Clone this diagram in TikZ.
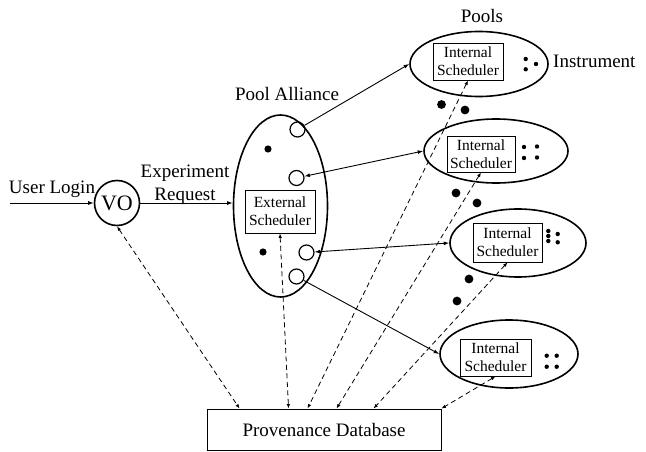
\documentclass[tikz,border=0pt]{standalone}
\usepackage{fontspec}
\setmainfont{Liberation Serif}
\usetikzlibrary{shapes.geometric,arrows.meta,calc}
\begin{document}
\begin{tikzpicture}[x=1pt,y=-1pt,
  lbl/.style={font=\fontsize{19}{23}\selectfont, inner sep=0pt},
  pool/.style={ellipse, draw, line width=1.6pt, inner sep=0pt},
  sched/.style={draw, line width=0.8pt, align=center, inner sep=0pt,
    font=\fontsize{15.5}{18}\selectfont},
  port/.style={circle, draw, line width=1.2pt, minimum size=15pt, inner sep=0pt},
  conn/.style={line width=0.9pt},
  tip/.style={-{Latex[length=5.5pt,width=4pt]}},
  tips/.style={{Latex[length=5.5pt,width=4pt]}-{Latex[length=5.5pt,width=4pt]}},
  dsh/.style={line width=0.8pt, dash pattern=on 5pt off 3.5pt,
    {Latex[length=4.5pt,width=3.5pt]}-{Latex[length=4.5pt,width=3.5pt]}},
  bigdot/.style={fill=black},
]
\useasboundingbox (0,0) rectangle (646,452);

% Pool alliance
\node[pool, minimum width=94pt, minimum height=182pt] (pa) at (280.5,206) {};
\node[lbl, anchor=base] (palbl) at (287,100) {Pool Alliance};
\node[sched, minimum width=70pt, minimum height=43pt] (ext) at (280,211.5) {External\\Scheduler};
\node[port] (c1) at (297.5,129.5) {};
\node[port] (c2) at (296.5,178) {};
\node[port] (c3) at (306.5,252.5) {};
\node[port] (c4) at (296.5,276.5) {};
\fill (268,149) circle (3.6);
\fill (263,252) circle (3.6);

% VO
\node[circle, draw, line width=1.6pt, minimum size=45pt, inner sep=0pt,
  font=\fontsize{22}{24}\selectfont] (vo) at (117,203) {VO};
\coordinate (ulstart) at (10,203);
\node[lbl, anchor=base] (ullbl) at (52,193) {User Login};
\node[lbl, anchor=base, align=center] (exlbl) at (185,200) {Experiment\\Request};

% Pools
\node[pool, minimum width=138pt, minimum height=65pt] (p1) at (479,64) {};
\node[pool, minimum width=144pt, minimum height=64pt] (p2) at (496,151) {};
\node[pool, minimum width=136pt, minimum height=68pt] (p3) at (518,243) {};
\node[pool, minimum width=138pt, minimum height=68pt] (p4) at (509,354) {};
\node[lbl, anchor=base] (poolslbl) at (482,23) {Pools};
\node[lbl, anchor=base west] (instlbl) at (553,68) {Instrument};

\node[sched, minimum width=70pt, minimum height=37pt] (is1) at (468,61.5) {Internal\\Scheduler};
\node[sched, minimum width=68pt, minimum height=36pt] (is2) at (481,154) {Internal\\Scheduler};
\node[sched, minimum width=69pt, minimum height=39pt] (is3) at (507.5,242.5) {Internal\\Scheduler};
\node[sched, minimum width=71pt, minimum height=37pt] (is4) at (495.5,357.5) {Internal\\Scheduler};

% instrument dots
\foreach \p in {(525.7,59),(536,64),(525.7,69.3),
  (524,147),(537,146.5),(524,158),(537,157.5),
  (548.3,231),(548.3,236),(548.3,241),(557.7,234),(557.7,242.3),
  (546.7,355.7),(556.7,355.7),(546.7,366.7),(556.7,366.7)}
  \fill \p circle (2.2);

% dots between pools
\foreach \p in {(441.5,104.5),(465,110),(456,193),(477,203),(469,279),(457,301)}
  \fill \p circle (4.4);

% Provenance database
\node[draw, line width=0.9pt, minimum width=234pt, minimum height=41pt, inner sep=0pt,
  font=\fontsize{19}{23}\selectfont] (db) at (324,429.5) {Provenance Database};

% solid connectors
\draw[conn, tip] (ulstart) -- (vo);
\draw[conn, tip] (vo.east) -- (vo.east -| pa.west);
\draw[conn, tip] (c1) -- (p1.west);
\draw[conn, tips] (c2) -- (p2.west);
\draw[conn, tips] (c3) -- (p3.west);
\draw[conn, tip] (c4) -- (p4.west);

% dashed connectors
\draw[dsh] (vo.south) -- ([xshift=33pt]db.north west);
\draw[dsh] (ext.south) -- ([xshift=82pt]db.north west);
\draw[dsh] (is1.south) -- ([xshift=101pt]db.north west);
\draw[dsh] (is2.south) -- ([xshift=130pt]db.north west);
\draw[dsh] (is3.south) -- ([xshift=167pt]db.north west);
\draw[dsh] (is4.south) -- (db.north east);
\end{tikzpicture}
\end{document}
